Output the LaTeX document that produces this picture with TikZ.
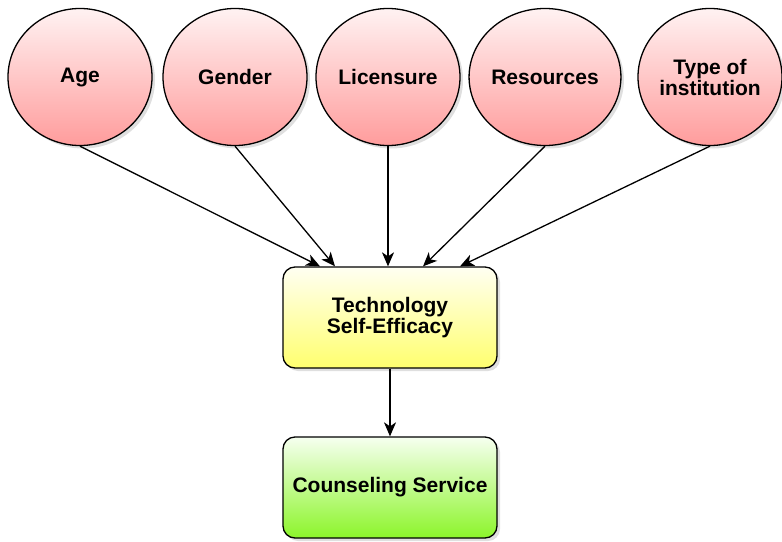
\documentclass[tikz,border=0pt]{standalone}
\usepackage{fontspec}
\setmainfont{Liberation Sans}
\usetikzlibrary{shapes.geometric,arrows.meta,shadows}

\definecolor{pinktop}{HTML}{FFF2F2}
\definecolor{pinkbot}{HTML}{FF9C9C}
\definecolor{yellowtop}{HTML}{FFFFF2}
\definecolor{yellowbot}{HTML}{FFFF6E}
\definecolor{greentop}{HTML}{F6FFF0}
\definecolor{greenbot}{HTML}{8CF52A}

\begin{document}
\begin{tikzpicture}[x=1pt,y=-1pt,
    every node/.style={font=\bfseries\fontsize{21}{21}\selectfont, align=center},
    boxshadow/.style={drop shadow={opacity=0.25, shadow xshift=3pt, shadow yshift=-3pt}},
    factor/.style={ellipse, draw, line width=1.3pt, minimum width=144pt, minimum height=137pt, inner sep=0pt, top color=pinktop, bottom color=pinkbot, boxshadow},
    outcome/.style={rectangle, draw, line width=1.3pt, rounded corners=12pt, minimum width=214pt, minimum height=101pt, boxshadow},
    link/.style={line width=1.3pt, -{Stealth[length=14pt,width=12pt,inset=4pt]}}]
    \useasboundingbox (0,0) rectangle (782,541);

    \node [factor] (age) at (80,77) {Age};
    \node [factor] (gender) at (235,77) {Gender};
    \node [factor] (licensure) at (388,77) {Licensure};
    \node [factor] (resources) at (545,77) {Resources};
    \node [factor] (type) at (710,77) {Type of\\institution};

    \node [outcome, top color=yellowtop, bottom color=yellowbot] (tse) at (390,317.5) {Technology\\Self-Efficacy};
    \node [outcome, top color=greentop, bottom color=greenbot] (cs) at (390,487.5) {Counseling Service};

    \draw [link] (age.south) -- ([xshift=-70pt]tse.north);
    \draw [link] (gender.south) -- ([xshift=-55pt]tse.north);
    \draw [link] (licensure.south) -- ([xshift=-2pt]tse.north);
    \draw [link] (resources.south) -- ([xshift=33pt]tse.north);
    \draw [link] (type.south) -- ([xshift=70pt]tse.north);

    \draw [link] (tse) -- (cs);
\end{tikzpicture}
\end{document}
